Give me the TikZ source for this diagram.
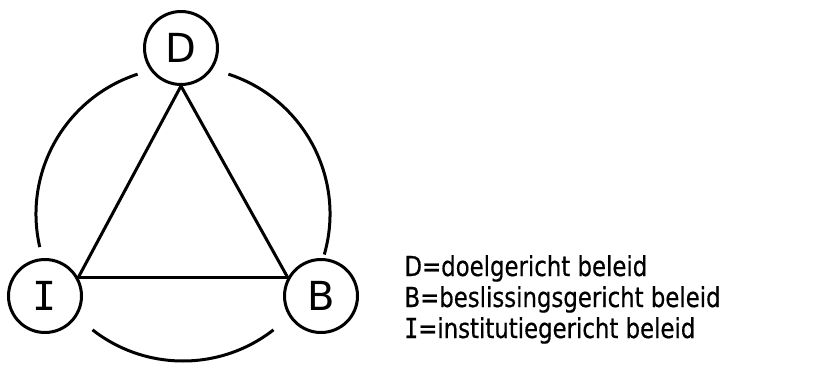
\documentclass[tikz,border=0pt]{standalone}
\usepackage{fontspec}
\setmainfont{DejaVu Sans}
\setmonofont{DejaVu Sans Mono}
\newfontfamily\legfont[FakeStretch=0.83,FakeBold=0.5]{DejaVu Sans}
\newfontfamily\legmono[FakeStretch=0.83,FakeBold=0.5]{DejaVu Sans Mono}
\begin{document}
\begin{tikzpicture}[x=1pt,y=1pt,line width=3pt,
  letter/.style={circle,draw,line width=3pt,minimum size=73pt,inner sep=0pt,font=\fontsize{40}{40}\selectfont},
  legend/.style={anchor=base west,inner sep=0pt,font=\legfont\fontsize{27.5}{27.5}\selectfont}]
\useasboundingbox (0,0) rectangle (818,365);
\node[letter] (D) at (181,317) {D};
\node[letter] (I) at (45,69) {\texttt{I}};
\node[letter] (B) at (321,69) {B};
\draw (D.south) -- (I.29);
\draw (D.south) -- (B.151);
\draw (I.29) -- (B.151);
\coordinate (O) at (183,151);
\draw (O) ++(108:147) arc[start angle=108,end angle=193,radius=147];
\draw (O) ++(72:147) arc[start angle=72,end angle=-16,radius=147];
\draw (O) ++(232:147) arc[start angle=232,end angle=308,radius=147];
\node[legend] (L1) at (403,89) {D=doelgericht beleid};
\node[legend] (L2) at (403,58) {B=beslissingsgericht beleid};
\node[legend] (L3) at (403,27) {{\legmono I}=institutiegericht beleid};
\end{tikzpicture}
\end{document}
